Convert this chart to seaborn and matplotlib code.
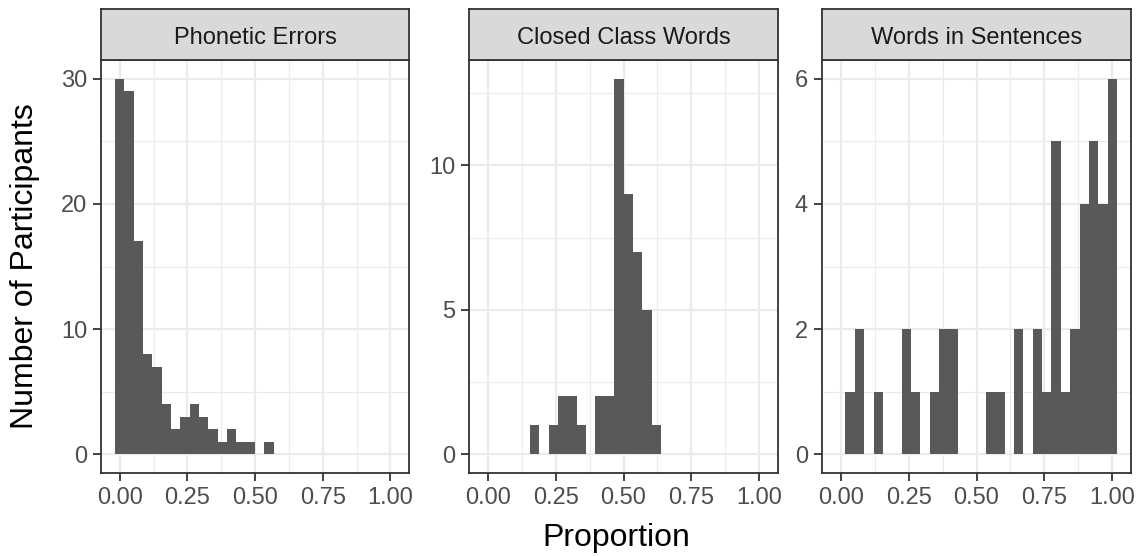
import numpy as np
import pandas as pd
import matplotlib
matplotlib.use("Agg")
import matplotlib.pyplot as plt
from matplotlib.ticker import MultipleLocator, FormatStrFormatter
import seaborn as sns

# ---- data (counts per bin, 30 bins over 0..1, width 1/29) ----
panel_titles = ["Phonetic Errors", "Closed Class Words", "Words in Sentences"]
phonetic_counts = [30, 29, 17, 8, 7, 4, 2, 3, 4, 3, 2, 1, 2, 1, 1, 0, 1,
                   0, 0, 0, 0, 0, 0, 0, 0, 0, 0, 0, 0, 0]
closed_counts = [0, 0, 0, 0, 0, 1, 0, 1, 2, 2, 1, 0, 2, 2, 13, 9, 7, 5, 1,
                 0, 0, 0, 0, 0, 0, 0, 0, 0, 0, 0]
sentences_counts = [0, 1, 2, 0, 1, 0, 0, 2, 1, 0, 1, 2, 2, 0, 0, 0, 1, 1, 0,
                    2, 0, 2, 1, 5, 1, 2, 4, 5, 4, 6]
x_tick_labels = ["0.00", "0.25", "0.50", "0.75", "1.00"]
x_ticks = [0.0, 0.25, 0.5, 0.75, 1.0]
y_major_steps = [10, 5, 2]
y_max_counts = [30, 13, 6]
x_label = "Proportion"
y_label = "Number of Participants"

n_bins = 30
bin_width = 1.0 / (n_bins - 1)
bin_centers = np.arange(n_bins) * bin_width
bin_edges = (np.arange(n_bins + 1) * bin_width - bin_width / 2).tolist()

sns.set_theme(style="white")
plt.rcParams["font.family"] = ["Liberation Sans", "DejaVu Sans"]

W, H = 1142, 556
fig = plt.figure(figsize=(W / 100, H / 100), dpi=100)
fig.patch.set_facecolor("white")

def px_axes(x0, y0, x1, y1):
    return fig.add_axes([x0 / W, 1 - y1 / H, (x1 - x0) / W, (y1 - y0) / H])

panels_px = [(101, 409), (469, 778), (822, 1131)]
top, bottom, strip_top = 60, 473, 9

all_counts = [phonetic_counts, closed_counts, sentences_counts]
xlo = bin_edges[0] - 0.05 * (bin_edges[-1] - bin_edges[0])
xhi = bin_edges[-1] + 0.05 * (bin_edges[-1] - bin_edges[0])

for i, ((x0, x1), counts, title) in enumerate(zip(panels_px, all_counts, panel_titles)):
    ax = px_axes(x0, top, x1, bottom)
    ax.set_facecolor("white")
    df = pd.DataFrame({"proportion": bin_centers, "count": np.asarray(counts, dtype=float)})
    sns.histplot(data=df, x="proportion", weights="count", bins=bin_edges, ax=ax,
                 color="#595959", alpha=1, linewidth=0, edgecolor="none",
                 element="bars", fill=True, zorder=3)
    ymax = y_max_counts[i]
    ax.set_xlim(xlo, xhi)
    ax.set_ylim(-0.05 * ymax, 1.05 * ymax)
    ax.set_xticks(x_ticks)
    ax.set_xticklabels(x_tick_labels)
    ax.xaxis.set_minor_locator(MultipleLocator(0.125))
    ax.yaxis.set_major_locator(MultipleLocator(y_major_steps[i]))
    ax.yaxis.set_minor_locator(MultipleLocator(y_major_steps[i] / 2))
    ax.yaxis.set_major_formatter(FormatStrFormatter("%d"))
    ax.grid(True, which="major", color="#EBEBEB", linewidth=1.6, zorder=0)
    ax.grid(True, which="minor", color="#EBEBEB", linewidth=0.8, zorder=0)
    ax.set_axisbelow(True)
    ax.tick_params(axis="both", which="major", length=6, width=1.3,
                   color="#333333", labelsize=17, labelcolor="#4D4D4D",
                   pad=4, bottom=True, left=True)
    ax.tick_params(axis="both", which="minor", length=0)
    ax.set_xlabel("")
    ax.set_ylabel("")
    for s in ax.spines.values():
        s.set_color("#333333")
        s.set_linewidth(1.3)
        s.set_visible(True)

    sax = px_axes(x0, strip_top, x1, top)
    sax.set_facecolor("#D9D9D9")
    sax.set_xticks([])
    sax.set_yticks([])
    for s in sax.spines.values():
        s.set_color("#333333")
        s.set_linewidth(1.3)
        s.set_visible(True)
    sax.text(0.5, 0.31, title, ha="center", va="baseline", fontsize=17,
             color="#1A1A1A", transform=sax.transAxes)

fig.text(616 / W, 1 - 538 / H, x_label, ha="center", va="center",
         fontsize=23, color="black")
fig.text(25 / W, 1 - 266 / H, y_label, ha="center", va="center",
         rotation=90, fontsize=23, color="black")

fig.savefig("out.png", dpi=100, facecolor="white")
